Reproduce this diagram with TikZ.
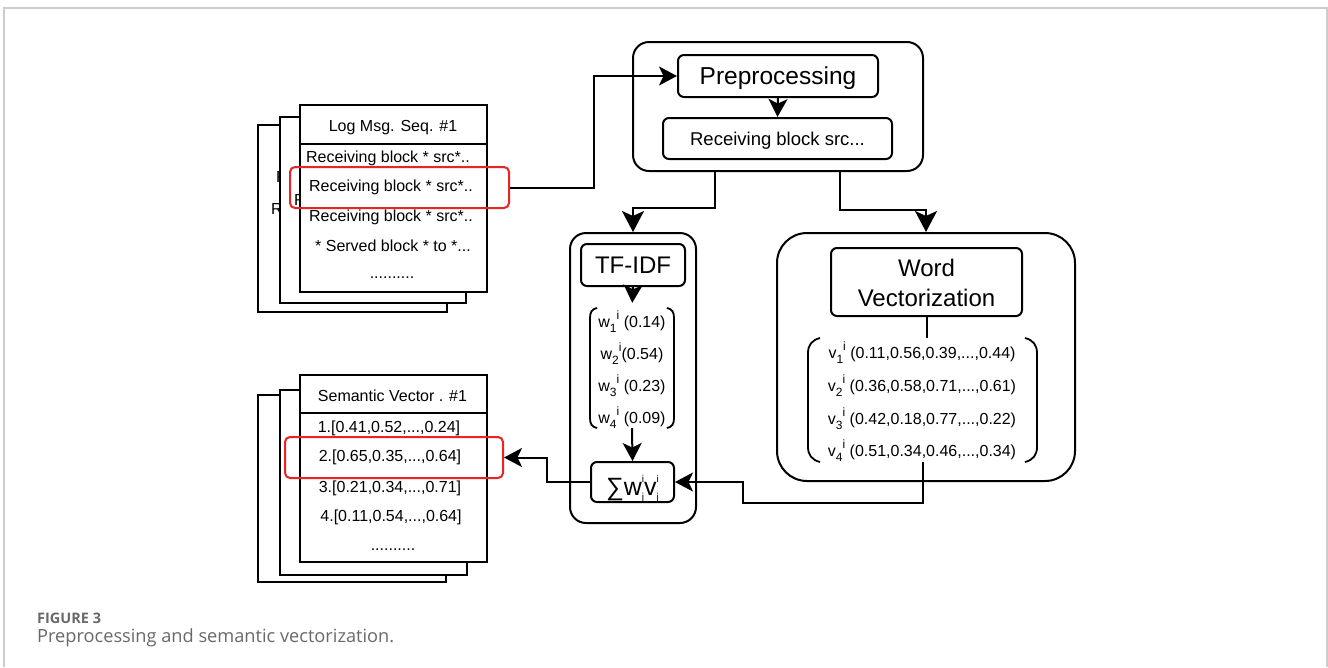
\documentclass[tikz,border=0pt]{standalone}
\usepackage{fontspec}
\setmainfont{Liberation Sans}
\newfontfamily\capfont{Open Sans}
\usetikzlibrary{arrows.meta,calc}
\definecolor{redc}{RGB}{235,35,35}
\definecolor{framec}{RGB}{205,205,205}
\definecolor{capc}{RGB}{105,105,105}
\newcommand{\mysub}[1]{\raisebox{-0.32em}{\fontsize{12}{12}\selectfont #1}}
\newcommand{\mysup}[1]{\raisebox{0.5em}{\fontsize{12}{12}\selectfont #1}}
\newcommand{\mystk}[2]{\rlap{\raisebox{0.5em}{\fontsize{10}{10}\selectfont #1}}\raisebox{-0.2em}{\fontsize{10}{10}\selectfont #2}}
\begin{document}
\begin{tikzpicture}[x=1pt,y=-1pt,
  doc/.style={draw, fill=white, line width=2pt, inner sep=0pt},
  docline/.style={line width=2pt},
  rbox/.style={draw, fill=white, line width=2pt, rounded corners=6pt, inner sep=0pt},
  cont/.style={draw, line width=2pt, rounded corners=16pt, inner sep=0pt},
  redbox/.style={draw=redc, line width=2pt, rounded corners=5pt, inner sep=0pt},
  txt/.style={inner sep=0pt, anchor=base, font=\fontsize{16}{16}\selectfont},
  paren/.style={line width=1.8pt},
  conn/.style={line width=2pt},
  arr/.style={line width=2pt, -{Stealth[length=18pt,width=19pt,inset=4.5pt]}},
  arrbig/.style={line width=2pt, -{Stealth[length=21pt,width=22pt,inset=5pt]}}
]
\useasboundingbox (0,0) rectangle (1328,667);
\fill[white] (0,0) rectangle (1328,667);
\draw[framec, line width=1.5pt] (4,667) -- (4,8) -- (1327,8) -- (1327,667);

% ---------- top-left stack: log messages ----------
\node[doc, minimum width=189, minimum height=187] (ldocA) at (352.5,218.5) {};
\node[txt, anchor=base west] (ldocAa) at (276,182) {R};
\node[txt, anchor=base west] (ldocAb) at (271,214) {R};
\node[doc, minimum width=186, minimum height=186] (ldocB) at (373,210) {};
\node[txt, anchor=base west] (ldocBa) at (294,205) {R};
\node[doc, minimum width=187, minimum height=187] (ldocC) at (393.5,198.5) {};
\draw[docline] (300,144) -- (487,144);
\node[txt] (lhead) at (393,131.7) {Log Msg. Seq. \#1};
\node[txt] (lrow1) at (388,162.3) {Receiving block * src*..};
\node[txt] (lrow2) at (391,191.7) {Receiving block * src*..};
\node[txt] (lrow3) at (391,221.7) {Receiving block * src*..};
\node[txt] (lrow4) at (393,251.5) {* Served block * to *...};
\node[txt] (lrow5) at (392,278.3) {..........};
\node[redbox, minimum width=219, minimum height=41] (red1) at (399.5,187.5) {};

% ---------- bottom-left stack: semantic vectors ----------
\node[doc, minimum width=188, minimum height=187] (sdocA) at (352,488.5) {};
\node[doc, minimum width=187, minimum height=185] (sdocB) at (373.5,482.5) {};
\node[doc, minimum width=187, minimum height=187] (sdocC) at (393.5,468.5) {};
\draw[docline] (300,413) -- (487,413);
\node[txt] (shead) at (392.5,401.7) {Semantic Vector . \#1};
\node[txt] (srow1) at (389,432) {1.[0.41,0.52,...,0.24]};
\node[txt] (srow2) at (390,461.7) {2.[0.65,0.35,...,0.64]};
\node[txt] (srow3) at (390,492) {3.[0.21,0.34,...,0.71]};
\node[txt] (srow4) at (391,521.7) {4.[0.11,0.54,...,0.64]};
\node[txt] (srow5) at (393,550) {..........};
\node[redbox, minimum width=218, minimum height=41] (red2) at (394,457.5) {};

% ---------- preprocessing ----------
\node[cont, minimum width=290, minimum height=129] (precont) at (778,106.5) {};
\node[rbox, minimum width=200, minimum height=42, font=\fontsize{24.5}{26}\selectfont,
      text height=17.5pt, text depth=0pt] (prep) at (778,76) {Preprocessing};
\node[rbox, minimum width=229, minimum height=41, font=\fontsize{18.5}{20}\selectfont,
      text height=13.3pt, text depth=0pt] (recv) at (777.5,138.5) {Receiving block src...};

% ---------- TF-IDF ----------
\node[cont, minimum width=126, minimum height=290] (tfcont) at (633,378) {};
\node[rbox, minimum width=104, minimum height=42, font=\fontsize{24}{26}\selectfont,
      text height=17.2pt, text depth=0pt] (tfbox) at (633,265) {TF-IDF};
\node[minimum width=84, minimum height=120, inner sep=0pt] (wmat) at (632,368) {};
\draw[paren] (597,308) .. controls (592,309) and (590,312) .. (590,318) -- (590,418)
             .. controls (590,424) and (592,427) .. (597,428);
\draw[paren] (667,308) .. controls (672,309) and (674,312) .. (674,318) -- (674,418)
             .. controls (674,424) and (672,427) .. (667,428);
\node[txt] (w1) at (632,327) {w\mysub{1}\mysup{i} (0.14)};
\node[txt] (w2) at (632,359) {w\mysub{2}\mysup{i}(0.54)};
\node[txt] (w3) at (632,391) {w\mysub{3}\mysup{i} (0.23)};
\node[txt] (w4) at (632,423) {w\mysub{4}\mysup{i} (0.09)};
\node[rbox, minimum width=83, minimum height=40, font=\fontsize{25}{26}\selectfont,
      text height=26pt, text depth=0pt] (sum) at (632.5,482) {∑w\mystk{i}{j}v\mystk{i}{j}};

% ---------- Word vectorization ----------
\node[cont, rounded corners=30pt, minimum width=298, minimum height=248] (wvcont) at (926,357) {};
\node[rbox, minimum width=191, minimum height=68] (wvbox) at (926.5,282) {};
\node[txt, font=\fontsize{24}{26}\selectfont] (wvt1) at (926.5,276.7) {Word};
\node[txt, font=\fontsize{24}{26}\selectfont] (wvt2) at (926.5,306.7) {Vectorization};
\node[minimum width=229, minimum height=124, inner sep=0pt] (vmat) at (922.5,400) {};
\draw[paren] (820,338) .. controls (812,340) and (808,345) .. (808,353) -- (808,447)
             .. controls (808,455) and (812,460) .. (820,462);
\draw[paren] (1025,338) .. controls (1033,340) and (1037,345) .. (1037,353) -- (1037,447)
             .. controls (1037,455) and (1033,460) .. (1025,462);
\node[txt] (v1) at (922,358) {v\mysub{1}\mysup{i} (0.11,0.56,0.39,...,0.44)};
\node[txt] (v2) at (922,391) {v\mysub{2}\mysup{i} (0.36,0.58,0.71,...,0.61)};
\node[txt] (v3) at (922,424) {v\mysub{3}\mysup{i} (0.42,0.18,0.77,...,0.22)};
\node[txt] (v4) at (922,456) {v\mysub{4}\mysup{i} (0.51,0.34,0.46,...,0.34)};

% ---------- connectors ----------
\draw[arr] (red1.east) -- ++(84,0) |- (prep.west);
\draw[arr] (prep.south) -- (recv.north);
\draw[arrbig] ([xshift=-63pt]precont.south) -- ++(0,36) -| (tfcont.north);
\draw[arrbig] ([xshift=62pt]precont.south) -- ++(0,38) -| (wvcont.north);
\draw[arr, shorten >=5pt] (tfbox.south) -- (wmat.north);
\draw[arr] (wmat.south) -- (sum.north);
\draw[conn] (wvbox.south) -- (vmat.north -| wvbox.south);
\draw[arr] (vmat.south) -- ++(0,41) -| ([xshift=68pt]sum.east) -- (sum.east);
\draw[arr] (sum.west) -- ++(-43,0) |- (red2.east);

% ---------- caption ----------
\node[anchor=base west, inner sep=0pt, text=capc, font=\capfont\bfseries\fontsize{14.5}{15}\selectfont] (figlbl) at (37,623.3) {FIGURE 3};
\node[anchor=base west, inner sep=0pt, text=capc, font=\capfont\fontsize{18.2}{19}\selectfont] (figcap) at (37,642) {Preprocessing and semantic vectorization.};
\end{tikzpicture}
\end{document}
